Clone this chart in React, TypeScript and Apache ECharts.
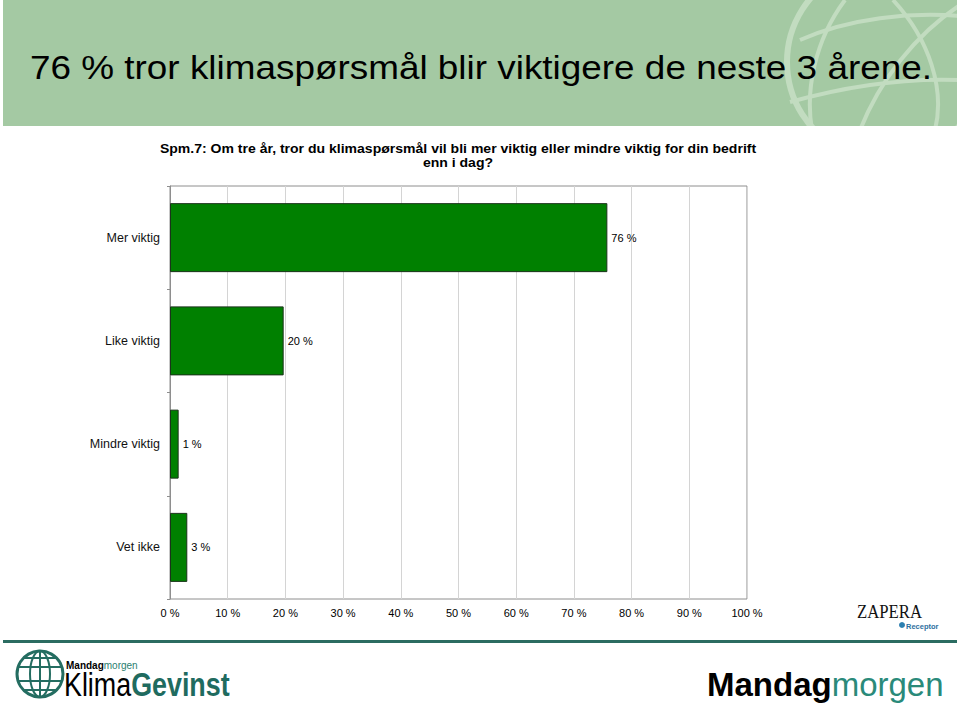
import React, { useEffect, useRef } from "react";
import * as echarts from "echarts";

const categories = ["Mer viktig", "Like viktig", "Mindre viktig", "Vet ikke"];
const values = [75.8, 19.7, 1.5, 3.0];
const valueLabels = ["76 %", "20 %", "1 %", "3 %"];
const xMin = 0;
const xMax = 100;
const xStep = 10;

const titleText = "76 % tror klimaspørsmål blir viktigere de neste 3 årene.";
const subtitleLine1 =
  "Spm.7: Om tre år, tror du klimaspørsmål vil bli mer viktig eller mindre viktig for din bedrift";
const subtitleLine2 = "enn i dag?";

const FONT = "'Liberation Sans', Arial, sans-serif";

export default function App() {
  const ref = useRef<HTMLDivElement>(null);

  useEffect(() => {
    if (!ref.current) return;
    const chart = echarts.init(ref.current, null, { renderer: "svg" });
    const globeColor = "#c2dcc0";
    const teal = "#246d61";
    const option: any = {
      animation: false,
      backgroundColor: "#ffffff",
      grid: {
        left: 170,
        top: 186,
        width: 577,
        height: 413,
        show: true,
        borderColor: "#8e8e8e",
        borderWidth: 1,
        backgroundColor: "transparent",
        containLabel: false,
      },
      xAxis: {
        type: "value",
        min: xMin,
        max: xMax,
        interval: xStep,
        axisLine: { show: false },
        axisTick: { show: false },
        splitLine: { show: true, lineStyle: { color: "#d4d4d4", width: 1 } },
        axisLabel: {
          formatter: "{value} %",
          fontFamily: FONT,
          fontSize: 11,
          color: "#000",
          margin: 8,
        },
      },
      yAxis: {
        type: "category",
        data: categories,
        inverse: true,
        axisLine: { show: true, lineStyle: { color: "#8e8e8e", width: 1 } },
        axisTick: { show: true, length: 3, lineStyle: { color: "#8e8e8e" } },
        axisLabel: {
          fontFamily: FONT,
          fontSize: 12.5,
          color: "#111",
          margin: 10,
        },
      },
      series: [
        {
          type: "bar",
          data: values,
          barWidth: 69,
          itemStyle: { color: "#008000", borderColor: "#1b331b", borderWidth: 1 },
          label: {
            show: true,
            position: "right",
            distance: 4,
            fontFamily: FONT,
            fontSize: 11,
            color: "#000",
            formatter: (p: any) => valueLabels[p.dataIndex],
          },
        },
      ],
      graphic: [
        // header band
        { type: "rect", z: 0, shape: { x: 3, y: 0, width: 954, height: 126 }, style: { fill: "#a4c9a3" } },
        // globe decoration
        { type: "circle", z: 1, shape: { cx: 885, cy: 62, r: 98 }, style: { fill: "none", stroke: globeColor, lineWidth: 6 } },
        { type: "bezierCurve", z: 1, shape: { x1: 800, y1: 40, cpx1: 850, cpy1: 18, cpx2: 910, cpy2: 12, x2: 960, y2: 16 }, style: { fill: "none", stroke: globeColor, lineWidth: 4 } },
        { type: "bezierCurve", z: 1, shape: { x1: 790, y1: 102, cpx1: 850, cpy1: 85, cpx2: 910, cpy2: 78, x2: 960, y2: 80 }, style: { fill: "none", stroke: globeColor, lineWidth: 4 } },
        { type: "bezierCurve", z: 1, shape: { x1: 845, y1: 0, cpx1: 815, cpy1: 40, cpx2: 805, cpy2: 90, x2: 812, y2: 130 }, style: { fill: "none", stroke: globeColor, lineWidth: 4 } },
        { type: "bezierCurve", z: 1, shape: { x1: 893, y1: 0, cpx1: 930, cpy1: 40, cpx2: 945, cpy2: 90, x2: 935, y2: 130 }, style: { fill: "none", stroke: globeColor, lineWidth: 4 } },
        { type: "bezierCurve", z: 1, shape: { x1: 860, y1: 130, cpx1: 880, cpy1: 80, cpx2: 915, cpy2: 35, x2: 960, y2: 5 }, style: { fill: "none", stroke: globeColor, lineWidth: 4 } },
        // cover overflow
        { type: "rect", z: 2, shape: { x: 770, y: 126, width: 190, height: 60 }, style: { fill: "#ffffff" } },
        { type: "rect", z: 2, shape: { x: 957, y: 0, width: 3, height: 130 }, style: { fill: "#ffffff" } },
        // title
        {
          type: "text",
          z: 3,
          x: 30,
          y: 67,
          scaleX: 1.085,
          style: { text: titleText, fontFamily: FONT, fontSize: 34, fill: "#000", verticalAlign: "middle", align: "left" },
        },
        // subtitle
        {
          type: "text",
          z: 3,
          x: 458,
          y: 149,
          scaleX: 1.17,
          style: { text: subtitleLine1, fontFamily: FONT, fontSize: 12, fontWeight: "bold", fill: "#000", align: "center", verticalAlign: "middle" },
        },
        {
          type: "text",
          z: 3,
          x: 458,
          y: 163,
          scaleX: 1.17,
          style: { text: subtitleLine2, fontFamily: FONT, fontSize: 12, fontWeight: "bold", fill: "#000", align: "center", verticalAlign: "middle" },
        },
        // ZAPERA logo
        {
          type: "text",
          z: 3,
          x: 857,
          y: 612,
          scaleX: 0.88,
          style: { text: "ZAPERA", fontFamily: "'Liberation Serif', serif", fontSize: 19, lineHeight: 17, fill: "#111", verticalAlign: "middle" },
        },
        { type: "circle", z: 3, shape: { cx: 902, cy: 625, r: 3 }, style: { fill: "#2d7fb0" } },
        {
          type: "text",
          z: 3,
          x: 906,
          y: 626,
          style: { text: "Receptor", fontFamily: FONT, fontSize: 7.5, lineHeight: 8, fontWeight: "bold", fill: "#2d6fa0", verticalAlign: "middle" },
        },
        // bottom rule
        { type: "rect", z: 3, shape: { x: 3, y: 640, width: 954, height: 3 }, style: { fill: "#2b6c61" } },
        // KlimaGevinst globe icon
        { type: "circle", z: 3, shape: { cx: 40, cy: 674, r: 23 }, style: { fill: "none", stroke: teal, lineWidth: 3 } },
        { type: "ellipse", z: 3, shape: { cx: 40, cy: 674, rx: 10, ry: 23 }, style: { fill: "none", stroke: teal, lineWidth: 2 } },
        { type: "line", z: 3, shape: { x1: 40, y1: 651, x2: 40, y2: 697 }, style: { stroke: teal, lineWidth: 2 } },
        { type: "line", z: 3, shape: { x1: 18, y1: 667, x2: 62, y2: 667 }, style: { stroke: teal, lineWidth: 2 } },
        { type: "line", z: 3, shape: { x1: 18, y1: 681, x2: 62, y2: 681 }, style: { stroke: teal, lineWidth: 2 } },
        { type: "line", z: 3, shape: { x1: 23, y1: 658, x2: 57, y2: 658 }, style: { stroke: teal, lineWidth: 2 } },
        { type: "line", z: 3, shape: { x1: 23, y1: 690, x2: 57, y2: 690 }, style: { stroke: teal, lineWidth: 2 } },
        {
          type: "text",
          z: 3,
          x: 66,
          y: 665,
          style: {
            text: "{a|Mandag}{b|morgen}",
            verticalAlign: "middle",
            rich: {
              a: { fontFamily: FONT, fontSize: 10, fontWeight: "bold", fill: "#000", color: "#000" },
              b: { fontFamily: FONT, fontSize: 10, fill: "#2a8070", color: "#2a8070" },
            },
          },
        },
        {
          type: "text",
          z: 3,
          x: 64,
          y: 684,
          scaleX: 0.79,
          style: {
            text: "{a|Klima}{b|Gevinst}",
            verticalAlign: "middle",
            rich: {
              a: { fontFamily: FONT, fontSize: 34, lineHeight: 28, fill: "#000", color: "#000" },
              b: { fontFamily: FONT, fontSize: 34, lineHeight: 28, fontWeight: "bold", fill: "#1f6b5f", color: "#1f6b5f" },
            },
          },
        },
        // Mandagmorgen logo
        {
          type: "text",
          z: 3,
          x: 707,
          y: 684,
          style: {
            text: "{a|Mandag}{b|morgen}",
            verticalAlign: "middle",
            rich: {
              a: { fontFamily: FONT, fontSize: 33, lineHeight: 30, fontWeight: "bold", fill: "#000", color: "#000" },
              b: { fontFamily: FONT, fontSize: 33, lineHeight: 30, fill: "#2a8a7a", color: "#2a8a7a" },
            },
          },
        },
      ],
    };
    chart.setOption(option);
    return () => chart.dispose();
  }, []);

  return (
    <div
      ref={ref}
      style={{ position: "fixed", left: 0, top: 0, width: 960, height: 703, background: "#fff" }}
    />
  );
}
